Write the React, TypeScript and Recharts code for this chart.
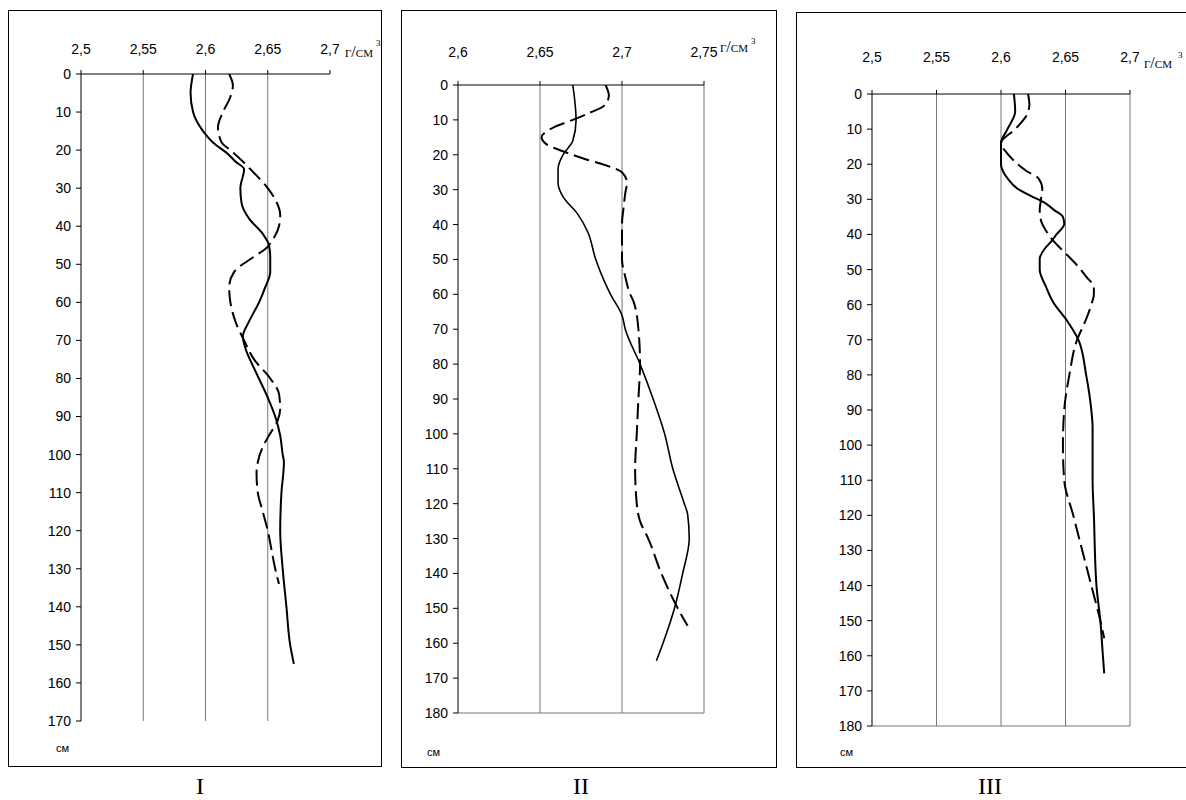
import React from 'react';
import { LineChart, Line, XAxis, YAxis, ReferenceLine } from 'recharts';

// Panel I
const depthsISolid = [0, 5, 10, 15, 18, 21, 23, 25, 30, 34, 38, 42, 45, 48, 52, 56, 60, 65, 69, 72, 78, 85, 90, 95, 100, 102, 110, 120, 130, 140, 150, 155];
const valuesISolid = [2.59, 2.588, 2.59, 2.598, 2.606, 2.618, 2.624, 2.631, 2.628, 2.629, 2.635, 2.646, 2.651, 2.652, 2.652, 2.648, 2.643, 2.635, 2.63, 2.632, 2.64, 2.65, 2.656, 2.66, 2.662, 2.663, 2.661, 2.66, 2.662, 2.665, 2.668, 2.671];
const depthsIDashed = [0, 3, 6, 10, 14, 18, 20, 23, 25, 30, 33, 37, 40, 43, 46, 48, 52, 56, 60, 65, 70, 75, 80, 84, 88, 91, 95, 98, 102, 105, 110, 115, 120, 125, 130, 134];
const valuesIDashed = [2.619, 2.622, 2.62, 2.614, 2.61, 2.613, 2.62, 2.63, 2.636, 2.65, 2.656, 2.66, 2.659, 2.655, 2.648, 2.639, 2.623, 2.619, 2.62, 2.624, 2.631, 2.639, 2.652, 2.659, 2.66, 2.658, 2.651, 2.646, 2.642, 2.641, 2.642, 2.646, 2.65, 2.653, 2.656, 2.659];

// Panel II
const depthsIISolid = [0, 10, 16, 20, 24, 28, 32, 37, 42, 50, 56, 60, 66, 70, 80, 90, 100, 110, 120, 123, 130, 140, 150, 160, 165];
const valuesIISolid = [2.67, 2.672, 2.67, 2.664, 2.661, 2.661, 2.664, 2.673, 2.679, 2.684, 2.689, 2.693, 2.7, 2.702, 2.711, 2.719, 2.726, 2.731, 2.738, 2.74, 2.741, 2.737, 2.732, 2.725, 2.721];
const depthsIIDashed = [0, 3, 6, 8, 10, 12, 15, 17, 19, 21, 23, 25, 28, 31, 35, 40, 50, 55, 60, 62, 70, 80, 90, 100, 110, 120, 125, 130, 140, 150, 155];
const valuesIIDashed = [2.69, 2.692, 2.689, 2.68, 2.67, 2.659, 2.651, 2.654, 2.664, 2.676, 2.69, 2.7, 2.703, 2.702, 2.701, 2.7, 2.7, 2.702, 2.705, 2.707, 2.71, 2.711, 2.71, 2.709, 2.708, 2.709, 2.711, 2.716, 2.724, 2.734, 2.74];

// Panel III
const depthsIIISolid = [0, 5, 10, 14, 20, 24, 27, 29, 31, 33, 35, 37, 40, 42, 44, 47, 50, 55, 59, 65, 70, 80, 90, 95, 110, 120, 140, 150, 160, 165];
const valuesIIISolid = [2.61, 2.611, 2.605, 2.6, 2.6, 2.605, 2.613, 2.623, 2.634, 2.641, 2.648, 2.649, 2.643, 2.639, 2.634, 2.63, 2.63, 2.635, 2.64, 2.652, 2.66, 2.666, 2.67, 2.671, 2.671, 2.672, 2.674, 2.677, 2.679, 2.68];
const depthsIIIDashed = [0, 3, 6, 8, 10, 14, 17, 19, 22, 24, 27, 30, 33, 36, 39, 42, 45, 48, 52, 55, 57, 60, 65, 70, 80, 90, 100, 110, 120, 130, 140, 150, 155];
const valuesIIIDashed = [2.621, 2.622, 2.62, 2.616, 2.611, 2.6, 2.605, 2.61, 2.62, 2.629, 2.632, 2.631, 2.63, 2.631, 2.635, 2.641, 2.649, 2.657, 2.666, 2.672, 2.672, 2.67, 2.665, 2.659, 2.653, 2.649, 2.648, 2.649, 2.656, 2.663, 2.67, 2.677, 2.68];

// axis ticks
const densityTicksA = [2.5, 2.55, 2.6, 2.65, 2.7];
const densityTicksB = [2.6, 2.65, 2.7, 2.75];
const gridI = [2.55, 2.6, 2.65];
const gridII = [2.65, 2.7, 2.75];
const gridIII = [2.55, 2.6, 2.65, 2.7];
const depthTicks170 = [0, 10, 20, 30, 40, 50, 60, 70, 80, 90, 100, 110, 120, 130, 140, 150, 160, 170];
const depthTicks180 = [...depthTicks170, 180];

const toRows = (depths: number[], values: number[]) =>
  depths.map((d, i) => ({ depth: d, v: values[i] }));

const fmt = (v: number) => String(v).replace('.', ',');

interface PanelProps {
  box: { left: number; top: number; width: number; height: number };
  margin: { top: number; right: number; bottom: number; left: number };
  xDomain: [number, number];
  xTicks: number[];
  yMax: number;
  yTicks: number[];
  grid: number[];
  bottomLine: boolean;
  solid: { depth: number; v: number }[];
  dashed: { depth: number; v: number }[];
  xTickMargin: number;
  solidWidth: number;
}

const Panel: React.FC<PanelProps> = (p) => (
  <div
    style={{
      position: 'absolute',
      left: p.box.left,
      top: p.box.top,
      width: p.box.width,
      height: p.box.height,
      border: '1px solid #000',
      boxSizing: 'border-box',
      background: '#fff',
    }}
  >
    <div style={{ position: 'absolute', left: -1, top: -1 }}>
      <LineChart
        layout="vertical"
        width={p.box.width}
        height={p.box.height}
        margin={p.margin}
      >
        <XAxis
          type="number"
          orientation="top"
          domain={p.xDomain}
          ticks={p.xTicks}
          allowDataOverflow
          tickFormatter={fmt}
          tick={{ fill: '#000', fontSize: 14, fontFamily: 'Liberation Sans, Arial, sans-serif' }}
          axisLine={{ stroke: '#000' }}
          tickLine={{ stroke: '#000' }}
          tickSize={4}
          tickMargin={p.xTickMargin}
          height={30}
        />
        <YAxis
          type="number"
          dataKey="depth"
          domain={[0, p.yMax]}
          ticks={p.yTicks}
          allowDataOverflow
          tick={{ fill: '#000', fontSize: 14, fontFamily: 'Liberation Sans, Arial, sans-serif' }}
          axisLine={{ stroke: '#000' }}
          tickLine={{ stroke: '#000' }}
          tickSize={5}
          tickMargin={5}
          width={40}
        />
        {p.grid.map((g) => (
          <ReferenceLine key={g} x={g} stroke="#777" strokeWidth={1} />
        ))}
        {p.bottomLine && <ReferenceLine y={p.yMax} stroke="#777" strokeWidth={1} />}
        <Line
          data={p.dashed}
          dataKey="v"
          type="monotone"
          stroke="#000"
          strokeWidth={2}
          strokeDasharray="16 6"
          dot={false}
          isAnimationActive={false}
        />
        <Line
          data={p.solid}
          dataKey="v"
          type="monotone"
          stroke="#000"
          strokeWidth={p.solidWidth}
          dot={false}
          isAnimationActive={false}
        />
      </LineChart>
    </div>
  </div>
);

const serif = 'Liberation Serif, Times New Roman, serif';

// unit label "г/см³": text plus a separately placed superscript
const Unit: React.FC<{ left: number; top: number; supLeft: number; supTop: number }> = ({
  left,
  top,
  supLeft,
  supTop,
}) => (
  <>
    <div
      style={{
        position: 'absolute',
        left,
        top,
        fontFamily: serif,
        fontSize: 16,
        lineHeight: '16px',
        fontVariant: 'small-caps',
        whiteSpace: 'nowrap',
        color: '#000',
      }}
    >
      г/см
    </div>
    <div
      style={{
        position: 'absolute',
        left: supLeft,
        top: supTop,
        fontFamily: serif,
        fontSize: 9,
        lineHeight: '9px',
        color: '#000',
      }}
    >
      3
    </div>
  </>
);

const cmStyle: React.CSSProperties = {
  position: 'absolute',
  fontFamily: 'Liberation Sans, Arial, sans-serif',
  fontSize: 11,
  color: '#000',
};

const romanStyle: React.CSSProperties = {
  position: 'absolute',
  fontFamily: serif,
  fontSize: 24,
  lineHeight: '24px',
  color: '#000',
  width: 60,
  textAlign: 'center',
  top: 774,
};

export default function App() {
  return (
    <div
      style={{
        position: 'absolute',
        left: 0,
        top: 0,
        width: 1186,
        height: 800,
        overflow: 'hidden',
        background: '#fff',
      }}
    >
      <Panel
        box={{ left: 8, top: 10, width: 374, height: 757 }}
        margin={{ top: 34, right: 52, bottom: 46, left: 33 }}
        xDomain={[2.5, 2.7]}
        xTicks={densityTicksA}
        yMax={170}
        yTicks={depthTicks170}
        grid={gridI}
        bottomLine={false}
        solid={toRows(depthsISolid, valuesISolid)}
        dashed={toRows(depthsIDashed, valuesIDashed)}
        xTickMargin={16}
        solidWidth={2}
      />
      <Panel
        box={{ left: 401, top: 10, width: 376, height: 758 }}
        margin={{ top: 45, right: 73, bottom: 55, left: 17 }}
        xDomain={[2.6, 2.75]}
        xTicks={densityTicksB}
        yMax={180}
        yTicks={depthTicks180}
        grid={gridII}
        bottomLine={true}
        solid={toRows(depthsIISolid, valuesIISolid)}
        dashed={toRows(depthsIIDashed, valuesIIDashed)}
        xTickMargin={24}
        solidWidth={1.6}
      />
      <Panel
        box={{ left: 796, top: 12, width: 393, height: 756 }}
        margin={{ top: 52, right: 59, bottom: 42, left: 36 }}
        xDomain={[2.5, 2.7]}
        xTicks={densityTicksA}
        yMax={180}
        yTicks={depthTicks180}
        grid={gridIII}
        bottomLine={true}
        solid={toRows(depthsIIISolid, valuesIIISolid)}
        dashed={toRows(depthsIIIDashed, valuesIIIDashed)}
        xTickMargin={28}
        solidWidth={2}
      />

      <Unit left={345} top={44} supLeft={376} supTop={39} />
      <Unit left={720} top={39} supLeft={751} supTop={37} />
      <Unit left={1144} top={55} supLeft={1178} supTop={51} />

      <div style={{ ...cmStyle, left: 56, top: 742 }}>см</div>
      <div style={{ ...cmStyle, left: 427, top: 746 }}>см</div>
      <div style={{ ...cmStyle, left: 840, top: 746 }}>см</div>

      <div style={{ ...romanStyle, left: 170 }}>I</div>
      <div style={{ ...romanStyle, left: 551 }}>II</div>
      <div style={{ ...romanStyle, left: 960 }}>III</div>
    </div>
  );
}
